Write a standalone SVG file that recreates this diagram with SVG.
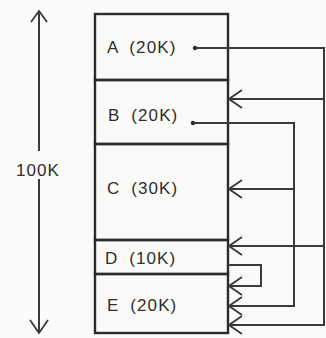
<svg xmlns="http://www.w3.org/2000/svg" width="326" height="338" viewBox="0 0 326 338">
  <defs>
    <style>
      .part { fill: none; stroke: #2b2b2b; stroke-width: 2.4; }
      .lbl { font-family: "Liberation Sans", Arial, sans-serif; font-size: 17px; fill: #2e2e2e; letter-spacing: 1.1px; word-spacing: 5px; }
      .wire { fill: none; stroke: #3a3a3a; stroke-width: 2; }
      .dot { fill: #2b2b2b; }
    </style>
    <marker id="arr" viewBox="0 0 15 20" refX="14" refY="10" markerWidth="15" markerHeight="20" markerUnits="userSpaceOnUse" orient="auto">
      <path d="M1,1 L14,10 L1,19" fill="none" stroke="#3a3a3a" stroke-width="1.8"/>
    </marker>
    <marker id="varr" viewBox="0 0 18 14" refX="9" refY="1" markerWidth="18" markerHeight="14" markerUnits="userSpaceOnUse" orient="0">
      <path d="M1,12 L9,1 L17,12" fill="none" stroke="#3a3a3a" stroke-width="1.8"/>
    </marker>
  </defs>
  <rect x="0" y="0" width="326" height="338" fill="#fafaf8"/>

  <g id="size-scale">
    <line class="wire" x1="39" y1="151" x2="39" y2="11" marker-end="url(#varr)"/>
    <text class="lbl" x="38" y="176" text-anchor="middle">100K</text>
    <line class="wire" x1="39" y1="179" x2="39" y2="333" marker-end="url(#arr)"/>
  </g>

  <g id="A">
    <rect class="part" x="95" y="14" width="133" height="66"/>
    <text class="lbl" x="107" y="53">A (20K)</text>
  </g>
  <g id="B">
    <rect class="part" x="95" y="80" width="133" height="64"/>
    <text class="lbl" x="108" y="121">B (20K)</text>
  </g>
  <g id="C">
    <rect class="part" x="95" y="144" width="133" height="96"/>
    <text class="lbl" x="107" y="194">C (30K)</text>
  </g>
  <g id="D">
    <rect class="part" x="95" y="240" width="133" height="34"/>
    <text class="lbl" x="105" y="264">D (10K)</text>
  </g>
  <g id="E">
    <rect class="part" x="95" y="274" width="133" height="59"/>
    <text class="lbl" x="107" y="311">E (20K)</text>
  </g>

  <g id="connectors">
    <circle class="dot" cx="195" cy="48" r="2.2"/>
    <path class="wire" d="M195,48 H324 V325 H229" marker-end="url(#arr)"/>
    <path class="wire" d="M324,99 H229" marker-end="url(#arr)"/>
    <path class="wire" d="M324,246 H229" marker-end="url(#arr)"/>
    <circle class="dot" cx="193" cy="123" r="2.2"/>
    <path class="wire" d="M193,123 H294 V306 H229" marker-end="url(#arr)"/>
    <path class="wire" d="M294,189 H229" marker-end="url(#arr)"/>
    <path class="wire" d="M228,265 H261 V286 H229" marker-end="url(#arr)"/>
  </g>
</svg>
